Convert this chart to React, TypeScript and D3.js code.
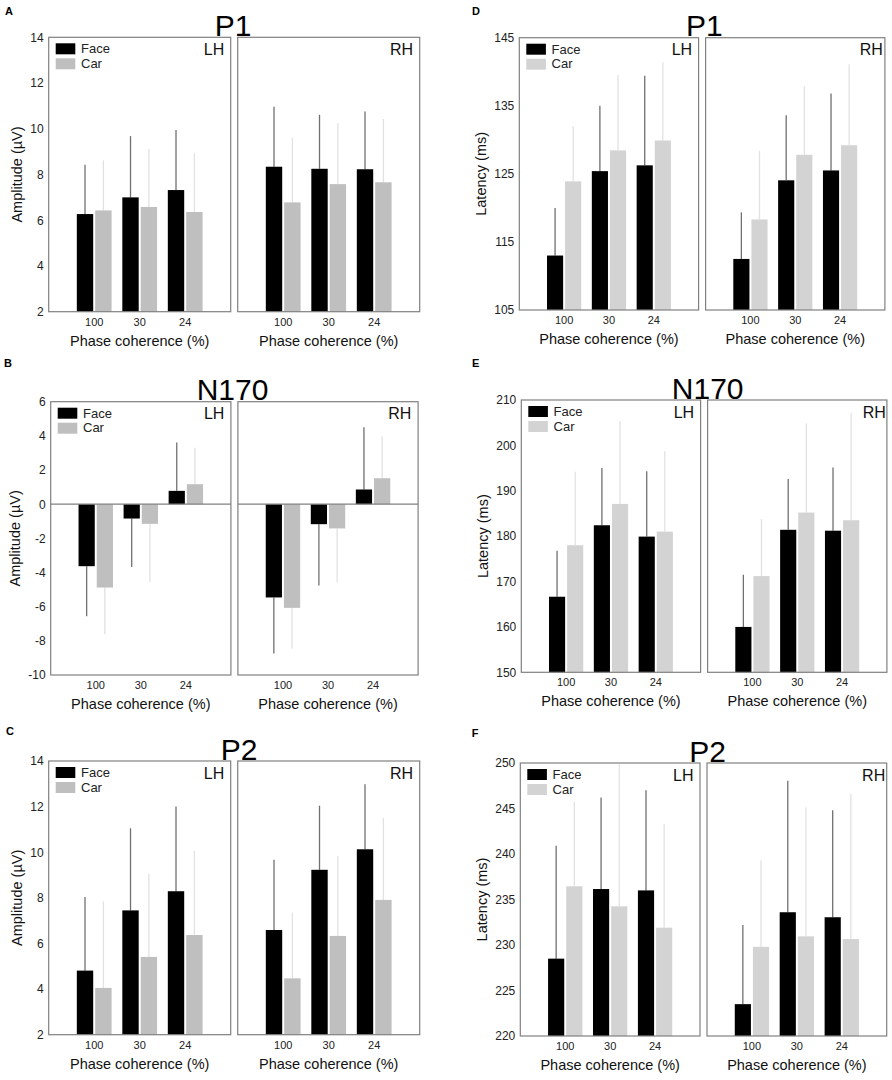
import React, { useEffect, useRef } from 'react';
import * as d3 from 'd3';

// phase coherence levels (x categories)
const categories = ['100', '30', '24'];
const conditions = ['Face', 'Car'];

// A: P1 amplitude (µV)
const p1AmpTicks = [2, 4, 6, 8, 10, 12, 14];
const p1AmpFaceLH = [6.27, 7.0, 7.32];
const p1AmpFaceLHSd = [2.16, 2.68, 2.63];
const p1AmpCarLH = [6.43, 6.58, 6.36];
const p1AmpCarLHSd = [2.19, 2.53, 2.57];
const p1AmpFaceRH = [8.34, 8.25, 8.23];
const p1AmpFaceRHSd = [2.62, 2.36, 2.53];
const p1AmpCarRH = [6.78, 7.58, 7.66];
const p1AmpCarRHSd = [2.83, 2.66, 2.77];

// B: N170 amplitude (µV)
const n170AmpTicks = [-10, -8, -6, -4, -2, 0, 2, 4, 6];
const n170AmpFaceLH = [-3.63, -0.84, 0.78];
const n170AmpFaceLHSd = [2.93, 2.83, 2.83];
const n170AmpCarLH = [-4.88, -1.15, 1.17];
const n170AmpCarLHSd = [2.73, 3.4, 2.13];
const n170AmpFaceRH = [-5.46, -1.17, 0.86];
const n170AmpFaceRHSd = [3.28, 3.59, 3.65];
const n170AmpCarRH = [-6.07, -1.42, 1.52];
const n170AmpCarRHSd = [2.38, 3.15, 2.46];

// C: P2 amplitude (µV)
const p2AmpTicks = [2, 4, 6, 8, 10, 12, 14];
const p2AmpFaceLH = [4.81, 7.45, 8.29];
const p2AmpFaceLHSd = [3.23, 3.6, 3.71];
const p2AmpCarLH = [4.05, 5.41, 6.37];
const p2AmpCarLHSd = [3.8, 3.65, 3.7];
const p2AmpFaceRH = [6.59, 9.23, 10.13];
const p2AmpFaceRHSd = [3.08, 2.81, 2.85];
const p2AmpCarRH = [4.47, 6.33, 7.91];
const p2AmpCarRHSd = [2.88, 3.5, 3.6];

// D: P1 latency (ms)
const p1LatTicks = [105, 115, 125, 135, 145];
const p1LatFaceLH = [113.0, 125.4, 126.25];
const p1LatFaceLHSd = [7.0, 9.6, 13.15];
const p1LatCarLH = [123.9, 128.45, 129.9];
const p1LatCarLHSd = [8.1, 11.1, 11.5];
const p1LatFaceRH = [112.5, 124.05, 125.5];
const p1LatFaceRHSd = [6.85, 9.55, 11.3];
const p1LatCarRH = [118.3, 127.8, 129.2];
const p1LatCarRHSd = [10.1, 10.1, 11.9];

// E: N170 latency (ms)
const n170LatTicks = [150, 160, 170, 180, 190, 200, 210];
const n170LatFaceLH = [166.65, 182.4, 179.9];
const n170LatFaceLHSd = [10.15, 12.6, 14.4];
const n170LatCarLH = [178.0, 187.1, 181.0];
const n170LatCarLHSd = [16.2, 18.25, 17.7];
const n170LatFaceRH = [160.0, 181.4, 181.2];
const n170LatFaceRHSd = [11.5, 11.2, 13.95];
const n170LatCarRH = [171.2, 185.2, 183.5];
const n170LatCarRHSd = [12.6, 19.6, 23.7];

// F: P2 latency (ms)
const p2LatTicks = [220, 225, 230, 235, 240, 245, 250];
const p2LatFaceLH = [228.5, 236.15, 236.0];
const p2LatFaceLHSd = [12.4, 10.05, 11.0];
const p2LatCarLH = [236.45, 234.25, 231.9];
const p2LatCarLHSd = [9.3, 15.6, 11.4];
const p2LatFaceRH = [223.5, 233.6, 233.05];
const p2LatFaceRHSd = [8.7, 14.45, 11.75];
const p2LatCarRH = [229.8, 230.95, 230.65];
const p2LatCarRHSd = [9.5, 14.15, 15.95];

const FONT = '"Liberation Sans", Arial, Helvetica, sans-serif';
const GAP = 7;

interface Side {
  face: number[];
  faceSd: number[];
  car: number[];
  carSd: number[];
}

interface Panel {
  letter: string;
  title: string;
  yLabel: string;
  ticks: number[];
  lh: Side;
  rh: Side;
  x0: number;
  w: number;
  top: number;
  bottom: number;
  titleX: number;
  letterX: number;
  letterY: number;
  yLabelX: number;
  carColor: string;
  rhInset: number;
}

const panels: Panel[] = [
  {
    letter: 'A', title: 'P1', yLabel: 'Amplitude (µV)', ticks: p1AmpTicks,
    lh: { face: p1AmpFaceLH, faceSd: p1AmpFaceLHSd, car: p1AmpCarLH, carSd: p1AmpCarLHSd },
    rh: { face: p1AmpFaceRH, faceSd: p1AmpFaceRHSd, car: p1AmpCarRH, carSd: p1AmpCarRHSd },
    x0: 48.7, w: 182, top: 37.3, bottom: 311.7, titleX: 233, letterX: 5, letterY: 15,
    yLabelX: 16.5, carColor: '#bfbfbf', rhInset: 6.7,
  },
  {
    letter: 'B', title: 'N170', yLabel: 'Amplitude (µV)', ticks: n170AmpTicks,
    lh: { face: n170AmpFaceLH, faceSd: n170AmpFaceLHSd, car: n170AmpCarLH, carSd: n170AmpCarLHSd },
    rh: { face: n170AmpFaceRH, faceSd: n170AmpFaceRHSd, car: n170AmpCarRH, carSd: n170AmpCarRHSd },
    x0: 50.7, w: 180.2, top: 401.7, bottom: 675, titleX: 232.5, letterX: 4, letterY: 366.7,
    yLabelX: 15, carColor: '#bfbfbf', rhInset: 6.7,
  },
  {
    letter: 'C', title: 'P2', yLabel: 'Amplitude (µV)', ticks: p2AmpTicks,
    lh: { face: p2AmpFaceLH, faceSd: p2AmpFaceLHSd, car: p2AmpCarLH, carSd: p2AmpCarLHSd },
    rh: { face: p2AmpFaceRH, faceSd: p2AmpFaceRHSd, car: p2AmpCarRH, carSd: p2AmpCarRHSd },
    x0: 48.7, w: 182, top: 761, bottom: 1034.7, titleX: 239, letterX: 6, letterY: 735,
    yLabelX: 16.5, carColor: '#bfbfbf', rhInset: 6.7,
  },
  {
    letter: 'D', title: 'P1', yLabel: 'Latency (ms)', ticks: p1LatTicks,
    lh: { face: p1LatFaceLH, faceSd: p1LatFaceLHSd, car: p1LatCarLH, carSd: p1LatCarLHSd },
    rh: { face: p1LatFaceRH, faceSd: p1LatFaceRHSd, car: p1LatCarRH, carSd: p1LatCarRHSd },
    x0: 519.3, w: 179.3, top: 37.7, bottom: 310, titleX: 704.3, letterX: 472, letterY: 15,
    yLabelX: 481, carColor: '#d3d3d3', rhInset: 2,
  },
  {
    letter: 'E', title: 'N170', yLabel: 'Latency (ms)', ticks: n170LatTicks,
    lh: { face: n170LatFaceLH, faceSd: n170LatFaceLHSd, car: n170LatCarLH, carSd: n170LatCarLHSd },
    rh: { face: n170LatFaceRH, faceSd: n170LatFaceRHSd, car: n170LatCarRH, carSd: n170LatCarRHSd },
    x0: 521.3, w: 179.3, top: 400, bottom: 672.3, titleX: 707.7, letterX: 472, letterY: 367,
    yLabelX: 482.5, carColor: '#d3d3d3', rhInset: 1,
  },
  {
    letter: 'F', title: 'P2', yLabel: 'Latency (ms)', ticks: p2LatTicks,
    lh: { face: p2LatFaceLH, faceSd: p2LatFaceLHSd, car: p2LatCarLH, carSd: p2LatCarLHSd },
    rh: { face: p2LatFaceRH, faceSd: p2LatFaceRHSd, car: p2LatCarRH, carSd: p2LatCarRHSd },
    x0: 520.3, w: 179.7, top: 763, bottom: 1036, titleX: 707.7, letterX: 471.7, letterY: 736.7,
    yLabelX: 481.7, carColor: '#d3d3d3', rhInset: 1.5,
  },
];

const App: React.FC = () => {
  const ref = useRef<SVGSVGElement>(null);

  useEffect(() => {
    const svg = d3.select(ref.current);
    svg.selectAll('*').remove();

    panels.forEach((p) => {
      const lo = p.ticks[0];
      const hi = p.ticks[p.ticks.length - 1];
      const y = d3.scaleLinear().domain([lo, hi]).range([p.bottom, p.top]).clamp(true);
      const baseValue = lo < 0 ? 0 : lo;
      const g = svg.append('g');

      // panel letter
      g.append('text')
        .attr('x', p.letterX)
        .attr('y', p.letterY)
        .attr('font-family', FONT)
        .attr('font-weight', 'bold')
        .attr('font-size', 11)
        .text(p.letter);

      // y axis (labels only)
      g.append('g')
        .attr('transform', `translate(${p.x0},0)`)
        .call(
          d3
            .axisLeft(y)
            .tickValues(p.ticks)
            .tickSize(0)
            .tickPadding(5)
            .tickFormat((d) => String(d))
        )
        .call((a) => a.select('.domain').remove())
        .call((a) =>
          a.selectAll('text').attr('font-size', 12).attr('font-family', FONT).attr('fill', '#222')
        );

      g.append('text')
        .attr('transform', `translate(${p.yLabelX},${(p.top + p.bottom) / 2}) rotate(-90)`)
        .attr('text-anchor', 'middle')
        .attr('dominant-baseline', 'central')
        .attr('font-family', FONT)
        .attr('font-size', 14.5)
        .attr('fill', '#111')
        .text(p.yLabel);

      (['LH', 'RH'] as const).forEach((side, si) => {
        const d = si === 0 ? p.lh : p.rh;
        const left = p.x0 + si * (p.w + GAP);
        const right = left + p.w;
        const x = d3
          .scaleBand<string>()
          .domain(categories)
          .range([left + p.w / 8, left + (7 * p.w) / 8]);
        const bw = x.bandwidth();
        const xs = d3
          .scaleBand<string>()
          .domain(conditions)
          .range([0.118 * bw, 0.882 * bw])
          .paddingInner(0.109);

        const series = [
          { key: 'Face', vals: d.face, sd: d.faceSd, fill: '#000', err: '#707070' },
          { key: 'Car', vals: d.car, sd: d.carSd, fill: p.carColor, err: '#e2e2e2' },
        ];

        series.forEach((s) => {
          categories.forEach((c, i) => {
            const v = s.vals[i];
            const bx = x(c)! + xs(s.key)!;
            const y0 = y(baseValue);
            const y1 = y(v);
            const errEnd = v >= baseValue ? v + s.sd[i] : v - s.sd[i];
            g.append('line')
              .attr('x1', bx + xs.bandwidth() / 2)
              .attr('x2', bx + xs.bandwidth() / 2)
              .attr('y1', y1)
              .attr('y2', y(errEnd))
              .attr('stroke', s.err)
              .attr('stroke-width', 1.3);
            g.append('rect')
              .attr('x', bx)
              .attr('y', Math.min(y0, y1))
              .attr('width', xs.bandwidth())
              .attr('height', Math.abs(y1 - y0))
              .attr('fill', s.fill);
          });
        });

        if (lo < 0) {
          g.append('line')
            .attr('x1', left)
            .attr('x2', right)
            .attr('y1', y(0))
            .attr('y2', y(0))
            .attr('stroke', '#808080')
            .attr('stroke-width', 1.2);
        }

        // frame
        g.append('rect')
          .attr('x', left)
          .attr('y', p.top)
          .attr('width', p.w)
          .attr('height', p.bottom - p.top)
          .attr('fill', 'none')
          .attr('stroke', '#808080')
          .attr('stroke-width', 1.2);

        // hemisphere label
        g.append('text')
          .attr('x', si === 0 ? right - 6.5 : right - p.rhInset)
          .attr('y', p.top + 17.7)
          .attr('text-anchor', 'end')
          .attr('font-family', FONT)
          .attr('font-size', 16)
          .attr('fill', '#111')
          .text(side);

        // x axis labels
        g.append('g')
          .attr('transform', `translate(0,${p.bottom})`)
          .call(d3.axisBottom(x).tickSize(0).tickPadding(6.2))
          .call((a) => a.select('.domain').remove())
          .call((a) =>
            a.selectAll('text').attr('font-size', 11).attr('font-family', FONT).attr('fill', '#222')
          );

        g.append('text')
          .attr('x', (left + right) / 2)
          .attr('y', p.bottom + 34)
          .attr('text-anchor', 'middle')
          .attr('font-family', FONT)
          .attr('font-size', 14.5)
          .attr('fill', '#111')
          .text('Phase coherence (%)');

        // legend in the LH panel
        if (si === 0) {
          series.forEach((s, k) => {
            g.append('rect')
              .attr('x', left + 7)
              .attr('y', p.top + 6 + k * 15)
              .attr('width', 19.6)
              .attr('height', 11)
              .attr('fill', s.fill);
            g.append('text')
              .attr('x', left + 32.3)
              .attr('y', p.top + 16 + k * 14.5)
              .attr('font-family', FONT)
              .attr('font-size', 13)
              .attr('fill', '#222')
              .text(s.key);
          });
        }
      });

      // component title
      g.append('text')
        .attr('x', p.titleX)
        .attr('y', p.top - 1.5)
        .attr('text-anchor', 'middle')
        .attr('font-family', FONT)
        .attr('font-size', 30)
        .attr('fill', '#000')
        .text(p.title);
    });

    return () => {
      svg.selectAll('*').remove();
    };
  }, []);

  return (
    <svg
      ref={ref}
      width={892}
      height={1080}
      style={{ position: 'absolute', left: 0, top: 0, background: '#fff' }}
    />
  );
};

export default App;
